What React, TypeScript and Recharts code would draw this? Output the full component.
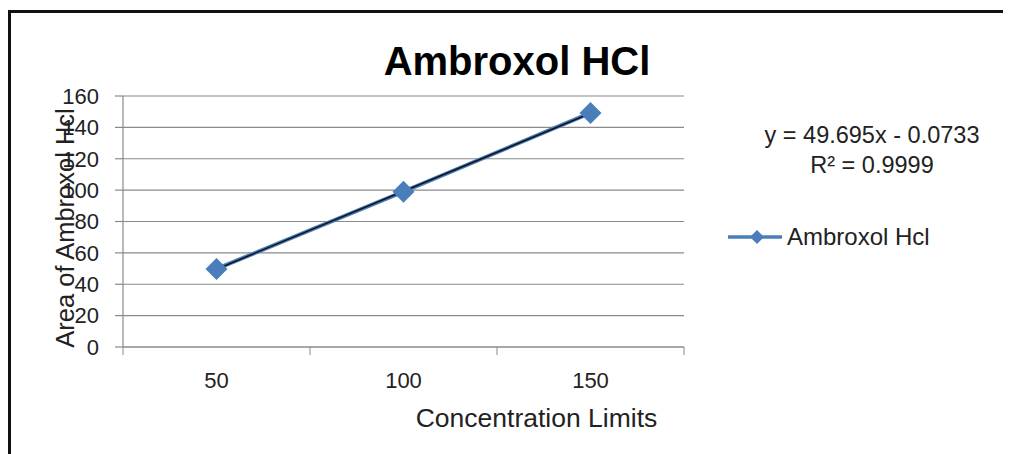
import React from "react";
import { ComposedChart, Line, XAxis, YAxis, CartesianGrid, Customized } from "recharts";

const categories = ["50", "100", "150"];
const areaValues = [49.8, 99.0, 149.2];
const trendValues = [49.6, 99.3, 149.0];
const yTicks = [0, 20, 40, 60, 80, 100, 120, 140, 160];

const data = categories.map((c, i) => ({ conc: c, area: areaValues[i], trend: trendValues[i] }));

const FONT = "'Liberation Sans', Arial, sans-serif";
const BLUE = "#4a7ebb";
const GRID = "#8a8a8a";
const PLOT_W = 561;

const Diamond = (props: any) => {
  const { cx, cy } = props;
  if (cx == null || cy == null) return null;
  const r = 11;
  return <polygon points={`${cx},${cy - r} ${cx + r},${cy} ${cx},${cy + r} ${cx - r},${cy}`} fill={BLUE} stroke="none" />;
};

const XTick = (props: any) => {
  const { x, y, payload, index } = props;
  const half = PLOT_W / categories.length / 2;
  return (
    <g>
      <line x1={x - half} x2={x - half} y1={y} y2={y + 8} stroke={GRID} strokeWidth={1} />
      {index === categories.length - 1 && (
        <line x1={x + half} x2={x + half} y1={y} y2={y + 8} stroke={GRID} strokeWidth={1} />
      )}
      <text x={x} y={y + 41} textAnchor="middle" fontSize={22} fontFamily={FONT} fill="#222">
        {payload.value}
      </text>
    </g>
  );
};

const Texts = () => (
  <g fontFamily={FONT}>
    <text x={509} y={67} textAnchor="middle" fontSize={40} fontWeight="bold" fill="#000">
      Ambroxol HCl
    </text>
    <text x={864} y={135} textAnchor="middle" fontSize={23.5} fill="#222">
      y = 49.695x - 0.0733
    </text>
    <text x={864} y={165} textAnchor="middle" fontSize={23.5} fill="#222">
      R² = 0.9999
    </text>
    <text x={528.5} y={419} textAnchor="middle" fontSize={26.5} fill="#222">
      Concentration Limits
    </text>
    <text
      x={57}
      y={220}
      textAnchor="middle"
      dominantBaseline="central"
      fontSize={25.5}
      fill="#222"
      transform="rotate(-90 57 220)"
    >
      Area of Ambroxol Hcl
    </text>
    <g>
      <line x1={720} x2={774} y1={229} y2={229} stroke={BLUE} strokeWidth={3.5} />
      <polygon points="749,222 756,229 749,236 742,229" fill={BLUE} />
      <text x={779} y={237} fontSize={24} fill="#222">
        Ambroxol Hcl
      </text>
    </g>
  </g>
);

export default function App() {
  return (
    <div style={{ position: "relative", width: 1003, height: 446 }}>
      <div
        style={{
          position: "absolute",
          left: 0,
          top: 2,
          right: -10,
          bottom: -20,
          borderTop: "3px solid #111",
          borderLeft: "3px solid #111",
          pointerEvents: "none",
        }}
      />
      <ComposedChart
        width={1003}
        height={446}
        data={data}
        margin={{ top: 88, left: 0, right: 327, bottom: 67 }}
      >
        <CartesianGrid vertical={false} stroke={GRID} strokeWidth={1.2} />
        <XAxis
          dataKey="conc"
          type="category"
          scale="band"
          height={40}
          tickLine={false}
          tickSize={0}
          tickMargin={0}
          axisLine={{ stroke: GRID, strokeWidth: 1.2 }}
          tick={<XTick />}
          interval={0}
        />
        <YAxis
          type="number"
          domain={[0, 160]}
          ticks={yTicks}
          width={115}
          tickSize={8}
          tickMargin={16}
          tickLine={{ stroke: GRID, strokeWidth: 1.2 }}
          axisLine={{ stroke: GRID, strokeWidth: 1.2 }}
          tick={{ fontSize: 22, fontFamily: FONT, fill: "#222" }}
          interval={0}
        />
        <Line
          dataKey="area"
          stroke={BLUE}
          strokeWidth={4}
          dot={<Diamond />}
          activeDot={false}
          isAnimationActive={false}
          name="Ambroxol Hcl"
        />
        <Line
          dataKey="trend"
          stroke="#111318"
          strokeWidth={1.5}
          dot={false}
          activeDot={false}
          isAnimationActive={false}
          legendType="none"
        />
        <Customized component={Texts} />
      </ComposedChart>
    </div>
  );
}
